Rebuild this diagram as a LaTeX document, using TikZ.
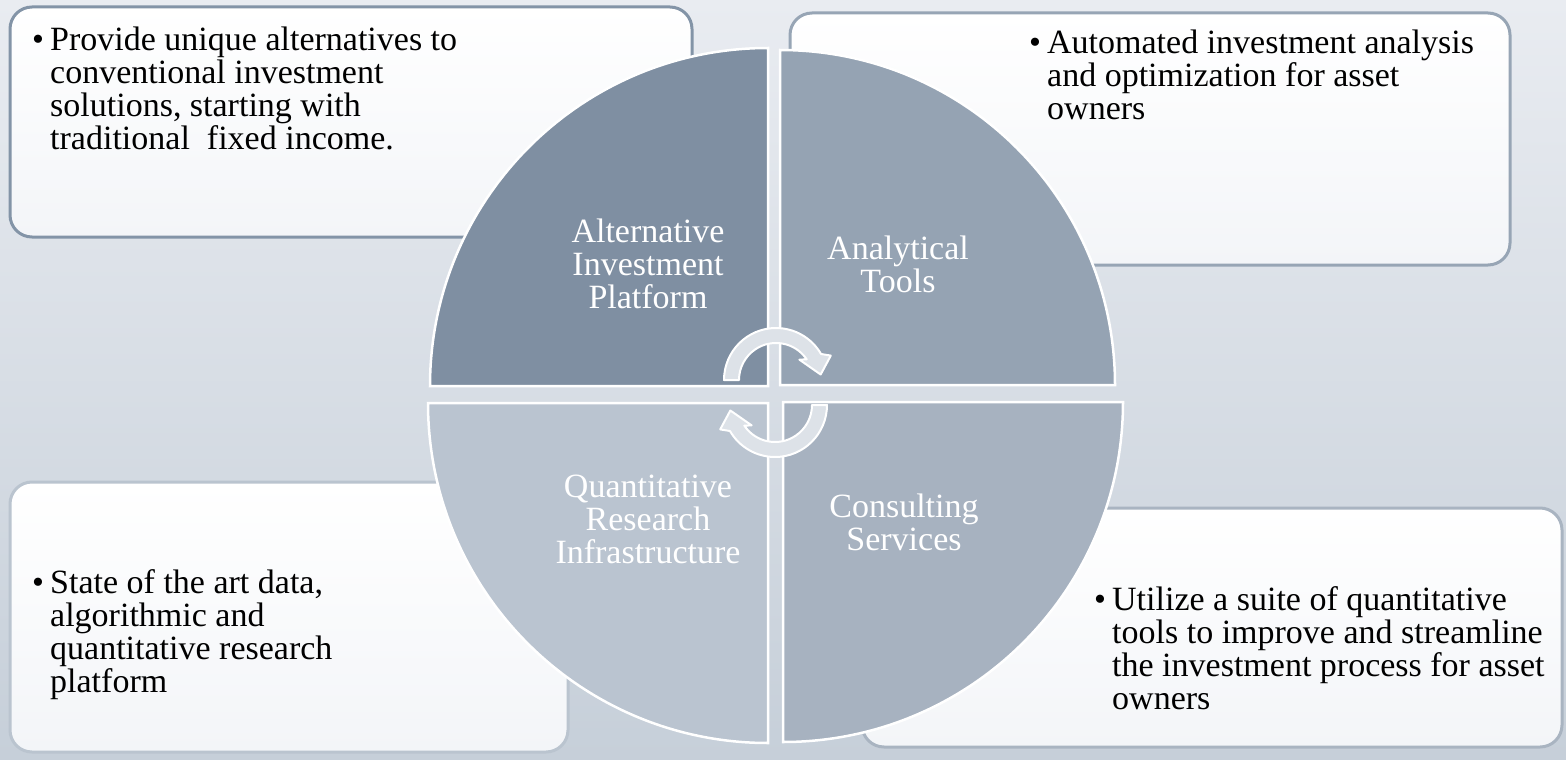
\documentclass[tikz,border=0pt]{standalone}
\usepackage{fontspec}
\setmainfont{Liberation Serif}
\usetikzlibrary{calc}

\definecolor{bgtop}{HTML}{E9ECF1}
\definecolor{bgbot}{HTML}{C6CFD9}
\definecolor{boxbot}{HTML}{F3F5F8}
\definecolor{qtl}{HTML}{7F8FA2}
\definecolor{qtr}{HTML}{95A3B3}
\definecolor{qbl}{HTML}{BAC4D0}
\definecolor{qbr}{HTML}{A7B2C0}
\definecolor{btl}{HTML}{8394A7}
\definecolor{btr}{HTML}{97A5B5}
\definecolor{bbl}{HTML}{BAC4CF}
\definecolor{bbr}{HTML}{A9B4C1}
\definecolor{arrowfill}{HTML}{DDE2E8}

\newcommand{\firstline}{\rule{0pt}{25pt}}
\newcommand{\bul}{\makebox[18pt][l]{\textbullet}}
\newcommand{\ind}{\hspace*{18pt}}

\begin{document}
\begin{tikzpicture}[x=1pt,y=-1pt,
  infobox/.style={line width=3pt, rounded corners=22pt, top color=white, bottom color=boxbot},
  quad/.style={draw=white, line width=2.5pt},
  bodytext/.style={anchor=north west, inner sep=0pt, align=left,
    font=\fontsize{34}{33}\selectfont, text=black},
  quadlabel/.style={anchor=north, inner sep=0pt, align=center,
    font=\fontsize{34}{33}\selectfont, text=white},
  cycarrow/.style={fill=arrowfill, draw=white, line width=2pt, line join=round}]

\useasboundingbox (0,0) rectangle (1566,760);
\shade[top color=bgtop, bottom color=bgbot] (0,0) rectangle (1566,760);

% description boxes
\path[infobox, draw=btl] (10,7) rectangle (692,237);
\path[infobox, draw=btr] (790,13) rectangle (1510,265);
\path[infobox, draw=bbl] (10,482) rectangle (568,752);
\path[infobox, draw=bbr] (862,508) rectangle (1562,747);

% box texts
\node[bodytext] (tlText) at (32,25) {\firstline\bul Provide unique alternatives to\\
  \ind conventional investment\\ \ind solutions, starting with\\ \ind traditional\ \ fixed income.};
\node[bodytext] (trText) at (1029,28) {\firstline\bul Automated investment analysis\\
  \ind and optimization for asset\\ \ind owners};
\node[bodytext] (blText) at (32,568) {\firstline\bul State of the art data,\\
  \ind algorithmic and\\ \ind quantitative research\\ \ind platform};
\node[bodytext] (brText) at (1094,585) {\firstline\bul Utilize a suite of quantitative\\
  \ind tools to improve and streamline\\ \ind the investment process for asset\\ \ind owners};

% exploded circle, four quadrants
\filldraw[quad, fill=qtl] (768,386) -- (430,386) arc[start angle=180, end angle=270, radius=338] -- cycle;
\filldraw[quad, fill=qtr] (780,385) -- (780,50) arc[start angle=270, end angle=360, radius=335] -- cycle;
\filldraw[quad, fill=qbr] (783,402) -- (1123,402) arc[start angle=0, end angle=90, radius=340] -- cycle;
\filldraw[quad, fill=qbl] (768,403) -- (768,743) arc[start angle=90, end angle=180, radius=340] -- cycle;

% quadrant titles
\node[quadlabel] (tlLabel) at (648,217) {\firstline Alternative\\ Investment\\ Platform};
\node[quadlabel] (trLabel) at (898,234) {\firstline Analytical\\ Tools};
\node[quadlabel] (blLabel) at (648,472) {\firstline Quantitative\\ Research\\ Infrastructure};
\node[quadlabel] (brLabel) at (904,492) {\firstline Consulting\\ Services};

% circular arrows in the middle
\begin{scope}[shift={(776,380)}]
  \filldraw[cycarrow] (180:52) arc[start angle=180, end angle=330, radius=52]
    -- (336:60) -- (353:45) -- (319:31) -- (326:37)
    arc[start angle=326, end angle=180, radius=37] -- cycle;
\end{scope}
\begin{scope}[shift={(775,405)}]
  \filldraw[cycarrow] (0:52) arc[start angle=0, end angle=150, radius=52]
    -- (156:60) -- (173:45) -- (139:31) -- (146:37)
    arc[start angle=146, end angle=0, radius=37] -- cycle;
\end{scope}
\end{tikzpicture}
\end{document}
